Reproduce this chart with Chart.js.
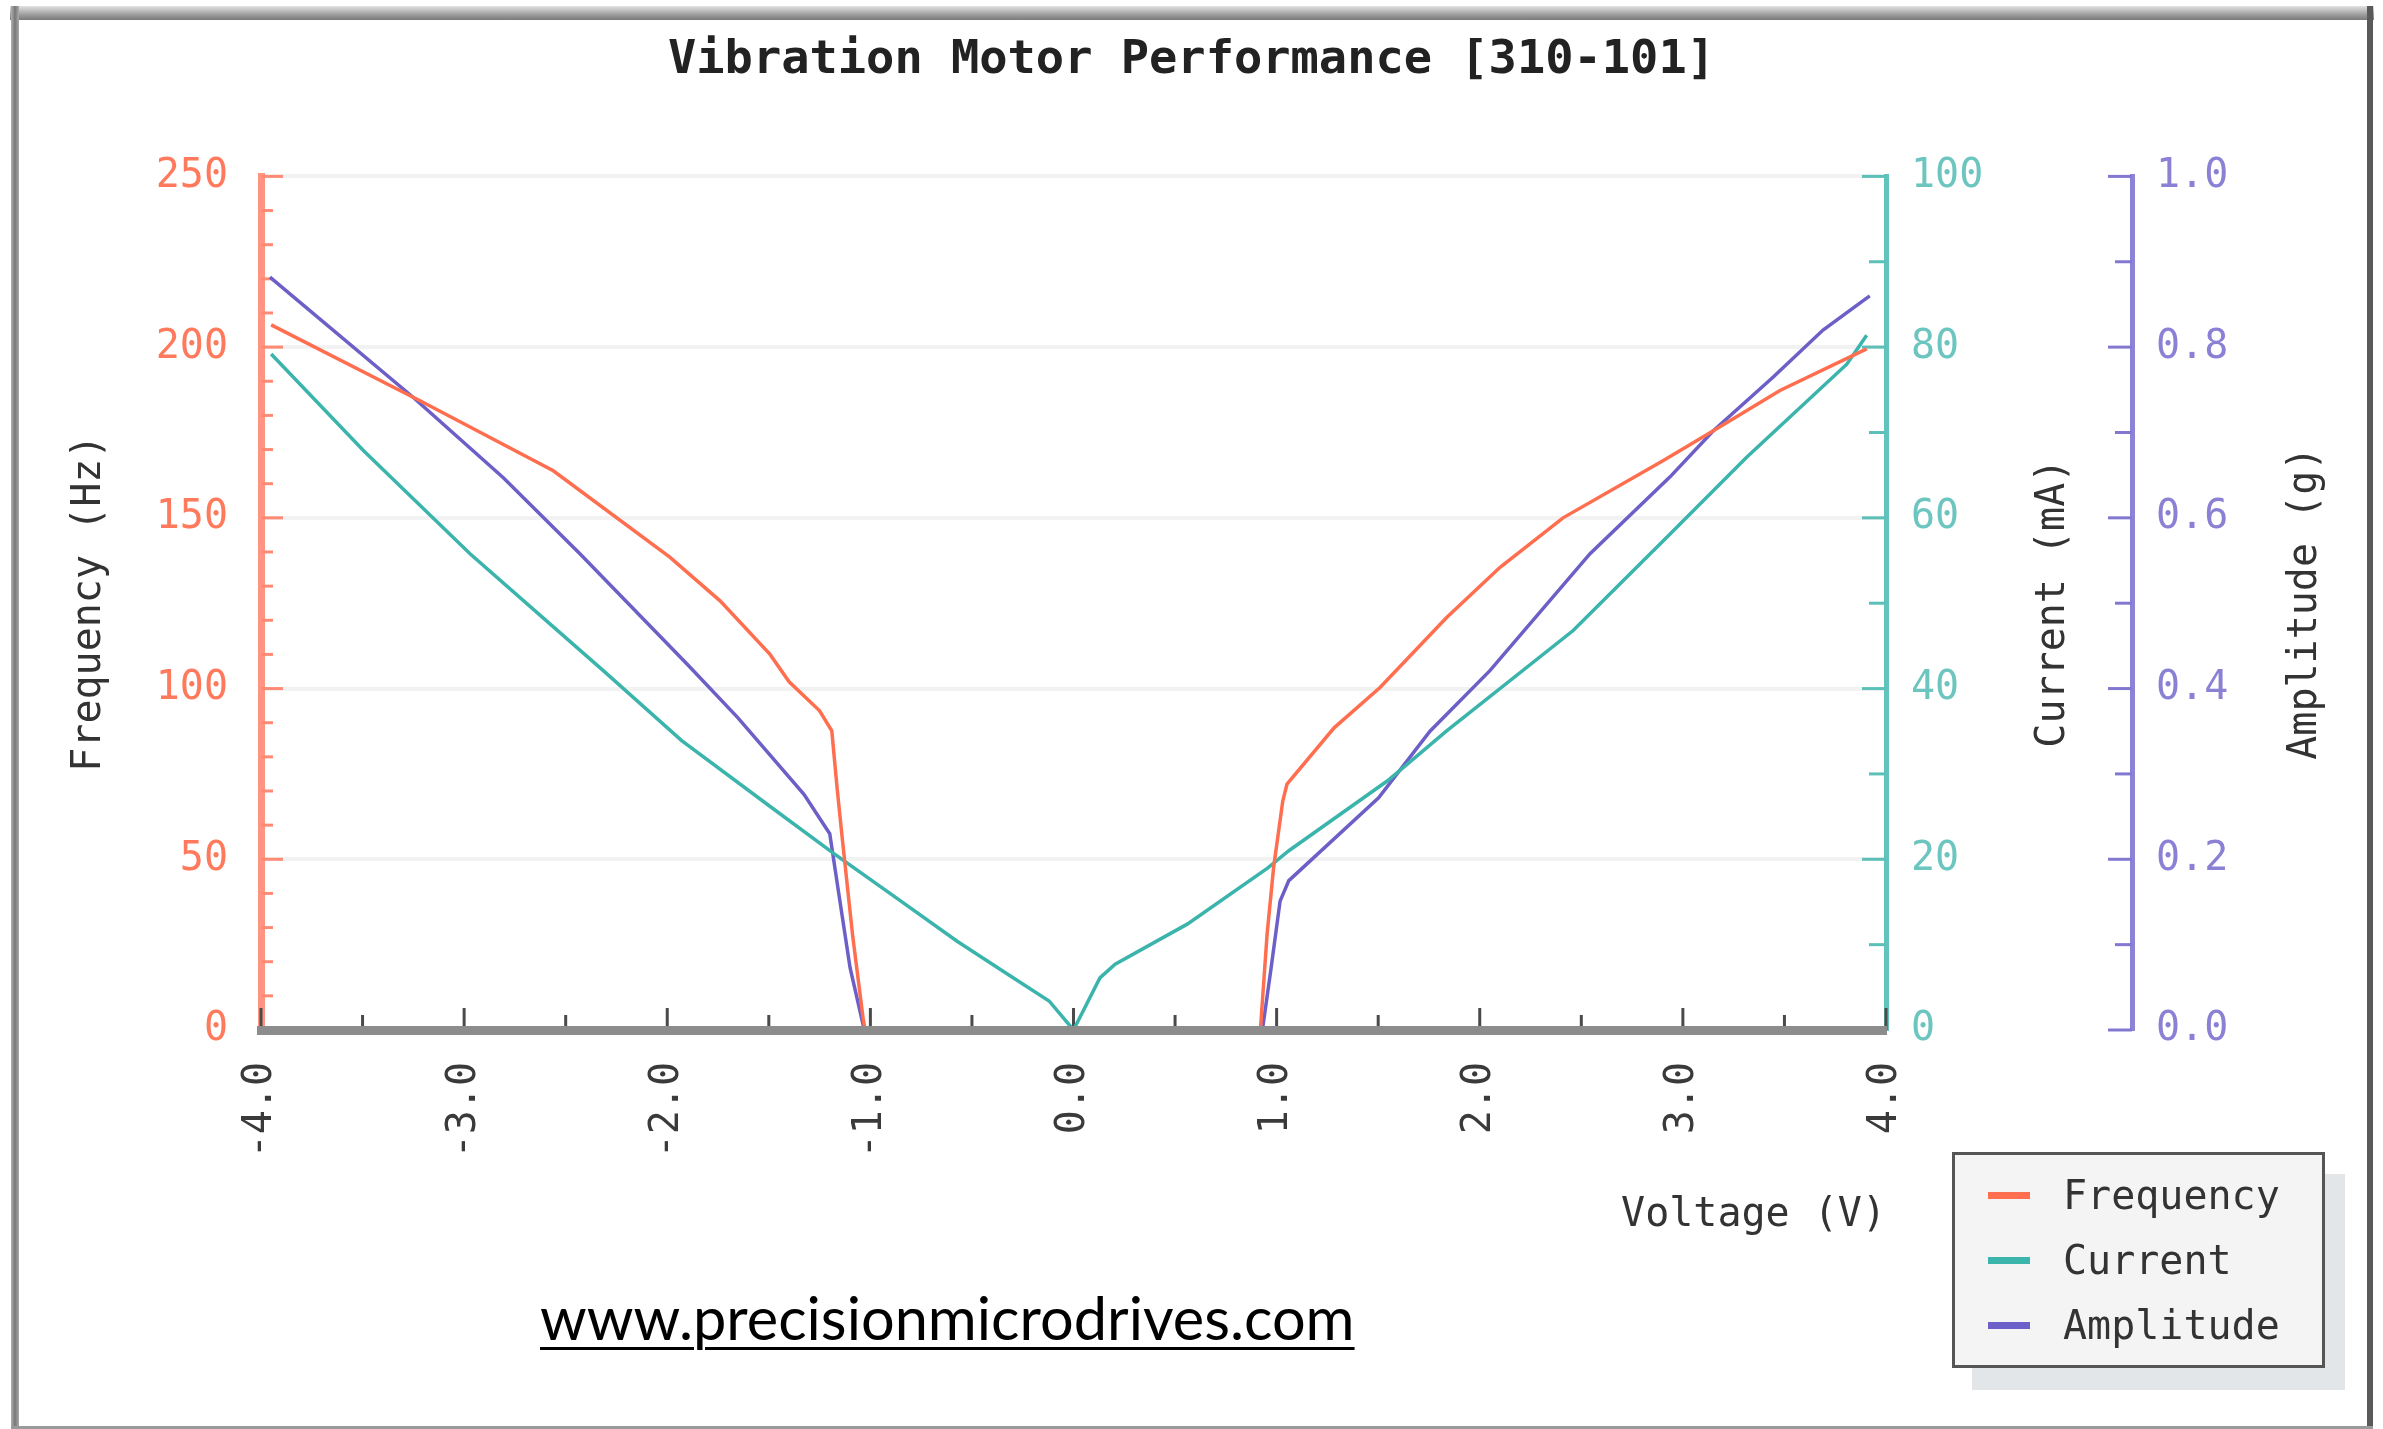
<!DOCTYPE html>
<html><head><meta charset="utf-8">
<script src="https://cdn.jsdelivr.net/npm/chart.js@4.4.1/dist/chart.umd.min.js"></script>
<style>
html,body{margin:0;padding:0;background:#fff;width:2383px;height:1429px;overflow:hidden;}
#wrap{position:relative;width:2383px;height:1429px;}
#c{position:absolute;left:0;top:0;}
#frameTop{position:absolute;left:10px;top:6px;width:2364px;height:14px;background:linear-gradient(#e2e2e2,#9a9a9a 65%,#7a7a7a);}
#frameLeft{position:absolute;left:11px;top:6px;width:8px;height:1423px;background:linear-gradient(90deg,#b0b0b0,#777 50%,#aaa);}
#frameRight{position:absolute;left:2367px;top:6px;width:6px;height:1423px;background:#5a5a5a;}
#frameBottom{position:absolute;left:11px;top:1426px;width:2362px;height:3px;background:#9a9a9a;}
#url{position:absolute;left:540px;top:1288px;font-family:Lato,'Open Sans',sans-serif;font-size:59.5px;line-height:59.5px;color:#000;text-decoration:underline;text-decoration-thickness:3px;text-underline-offset:7px;white-space:nowrap;}
#legend{position:absolute;left:1952px;top:1152px;width:367px;height:210px;background:#f4f4f4;border:3px solid #555;box-shadow:20px 22px 0 #e3e6e9;}
.lgItem{position:absolute;left:0;height:50px;width:367px;}
.lgSw{position:absolute;left:33px;top:22px;width:42px;height:7px;}
.lgTx{position:absolute;left:108px;top:0;height:50px;line-height:50px;font-family:'DejaVu Sans Mono',monospace;font-size:40px;color:#333;}
</style>
</head><body>
<div id="wrap">
  <div id="frameTop"></div><div id="frameLeft"></div><div id="frameRight"></div><div id="frameBottom"></div>
  <canvas id="c" width="2383" height="1429"></canvas>
  <div id="url">www.precisionmicrodrives.com</div>
  <div id="legend"></div>
</div>
<script>
// ---------- data ----------
const chartTitle = 'Vibration Motor Performance [310-101]';
const xTitle = 'Voltage (V)';
const freqTitle = 'Frequency (Hz)';
const currTitle = 'Current (mA)';
const ampTitle = 'Amplitude (g)';
const seriesNames = ['Frequency', 'Current', 'Amplitude'];

const freqVoltage = [-3.95, -3.217, -2.561, -1.986, -1.74, -1.494, -1.4, -1.25, -1.19, -1.164, -1.14, -1.088, -1.036, -1.026, 0.0, 0.92, 0.953, 0.985, 1.03, 1.051, 1.283, 1.509, 1.837, 2.1, 2.41, 2.904, 3.15, 3.478, 3.905];
const frequencyHz = [206.5, 184.3, 163.8, 138.4, 125.7, 110, 102, 93.5, 87.6, 71, 57, 28, 3.5, 0, null, 0, 28, 47.5, 67, 72, 88.5, 100.3, 120.8, 135.5, 150, 166.8, 175.5, 187.3, 199.5];

const currVoltage = [-3.95, -3.496, -2.971, -2.593, -2.315, -1.929, -1.5, -1.176, -0.874, -0.573, -0.322, -0.12, 0.0, 0.13, 0.205, 0.56, 0.957, 1.06, 1.546, 1.837, 2.46, 2.937, 3.314, 3.807, 3.905];
const currentMA = [79.2, 67.9, 55.8, 47.9, 42.1, 33.9, 26.3, 20.6, 15.5, 10.4, 6.5, 3.4, 0, 6.1, 7.7, 12.4, 19, 21, 29.2, 35.05, 46.8, 58.1, 67.1, 78, 81.4];

const ampVoltage = [-3.956, -3.25, -2.807, -2.43, -1.904, -1.653, -1.327, -1.2, -1.15, -1.1, -1.03, 0.0, 0.93, 0.973, 1.017, 1.06, 1.502, 1.755, 2.05, 2.543, 2.937, 3.15, 3.445, 3.69, 3.92];
const amplitudeG = [0.882, 0.741, 0.647, 0.558, 0.429, 0.366, 0.276, 0.23, 0.151, 0.073, 0, null, 0, 0.073, 0.151, 0.175, 0.272, 0.35, 0.421, 0.558, 0.648, 0.702, 0.765, 0.82, 0.86];

const xRange = [-4, 4];
const freqRange = [0, 250];
const currRange = [0, 100];
const ampRange = [0, 1];

// ---------- styles ----------
const MONO = "'DejaVu Sans Mono', monospace";
const freqColor = '#ff6f4f', currColor = '#3bb4ac', ampColor = '#6c5fc7';

const toPoints = (xs, ys) => xs.map((x, i) => ({x: x, y: ys[i]}));
const isMult = (v, m) => Math.abs(v / m - Math.round(v / m)) < 1e-6;

const tickMarks = {
  id: 'tickMarks',
  beforeDatasetsDraw(chart) {
    const {ctx, chartArea, scales} = chart;
    ctx.save();
    ctx.lineWidth = 3;
    const xs = scales.x;
    ctx.strokeStyle = '#4a4a4a';
    xs.ticks.forEach(t => {
      const px = xs.getPixelForValue(t.value);
      const len = isMult(t.value, 1) ? 22 : 15;
      ctx.beginPath(); ctx.moveTo(px, chartArea.bottom); ctx.lineTo(px, chartArea.bottom - len); ctx.stroke();
    });
    const ys = scales.y;
    ctx.strokeStyle = '#ff8a75';
    ys.ticks.forEach(t => {
      const py = ys.getPixelForValue(t.value);
      const len = isMult(t.value, 50) ? 22 : 12;
      ctx.beginPath(); ctx.moveTo(ys.right, py); ctx.lineTo(ys.right + len, py); ctx.stroke();
    });
    const y1 = scales.y1;
    ctx.strokeStyle = '#5cc0b9';
    y1.ticks.forEach(t => {
      const py = y1.getPixelForValue(t.value);
      const len = isMult(t.value, 20) ? 24 : 17;
      ctx.beginPath(); ctx.moveTo(y1.left, py); ctx.lineTo(y1.left - len, py); ctx.stroke();
    });
    const y2 = scales.y2;
    ctx.strokeStyle = '#8378d0';
    y2.ticks.forEach(t => {
      const py = y2.getPixelForValue(t.value);
      const len = isMult(t.value, 0.2) ? 24 : 17;
      ctx.beginPath(); ctx.moveTo(y2.left, py); ctx.lineTo(y2.left - len, py); ctx.stroke();
    });
    ctx.restore();
  },
  afterDraw(chart) {
    const {ctx, scales} = chart;
    const draw = (scale, text, off) => {
      ctx.save();
      ctx.translate(scale.right - off, (scale.top + scale.bottom) / 2);
      ctx.rotate(-Math.PI / 2);
      ctx.font = '40px ' + MONO;
      ctx.fillStyle = '#333';
      ctx.textAlign = 'center';
      ctx.textBaseline = 'middle';
      ctx.fillText(text, 0, 0);
      ctx.restore();
    };
    draw(scales.y1, currTitle, 78);
    draw(scales.y2, ampTitle, 77);
  }
};

const chart = new Chart(document.getElementById('c'), {
  type: 'line',
  data: {
    datasets: [
      {label: seriesNames[0], data: toPoints(freqVoltage, frequencyHz), borderColor: freqColor, backgroundColor: freqColor, yAxisID: 'y'},
      {label: seriesNames[1], data: toPoints(currVoltage, currentMA), borderColor: currColor, backgroundColor: currColor, yAxisID: 'y1'},
      {label: seriesNames[2], data: toPoints(ampVoltage, amplitudeG), borderColor: ampColor, backgroundColor: ampColor, yAxisID: 'y2'}
    ]
  },
  options: {
    responsive: false,
    animation: false,
    devicePixelRatio: 1,
    spanGaps: false,
    elements: {line: {borderWidth: 3.5, tension: 0}, point: {radius: 0}},
    layout: {padding: 0},
    plugins: {
      legend: {display: false},
      tooltip: {enabled: false},
      title: {display: true, text: chartTitle, color: '#222', font: {family: MONO, size: 47, weight: 'bold'}, padding: {top: 33, bottom: 87}}
    },
    scales: {
      x: {
        type: 'linear', position: 'bottom', min: xRange[0], max: xRange[1],
        ticks: {stepSize: 0.5, autoSkip: false, maxRotation: 90, minRotation: 90, padding: 32, color: '#3a3a3a', font: {family: MONO, size: 40},
          callback: v => isMult(v, 1) ? Number(v).toFixed(1) : ''},
        grid: {drawOnChartArea: false, drawTicks: false},
        border: {color: '#8c8c8c', width: 9, z: 1},
        title: {display: true, text: xTitle, align: 'end', color: '#333', font: {family: MONO, size: 40}, padding: {top: 0, bottom: 189}},
        afterFit: s => { s.height = 399; }
      },
      y: {
        type: 'linear', position: 'left', min: freqRange[0], max: freqRange[1],
        ticks: {stepSize: 10, autoSkip: false, padding: 33, color: '#ff7a5c', font: {family: MONO, size: 40},
          callback: v => isMult(v, 50) ? String(v) : ''},
        grid: {drawTicks: false, lineWidth: 4, color: c => (c.tick && c.tick.value > 0 && isMult(c.tick.value, 50)) ? 'rgba(0,0,0,0.05)' : 'rgba(0,0,0,0)'},
        border: {color: '#ff9482', width: 7},
        title: {display: true, text: freqTitle, color: '#333', font: {family: MONO, size: 40}, padding: {top: 66, bottom: 0}},
        afterFit: s => { s.width = 261; }
      },
      y1: {
        type: 'linear', position: 'right', min: currRange[0], max: currRange[1], weight: 0,
        ticks: {stepSize: 10, autoSkip: false, padding: 25, color: '#6cc5bf', font: {family: MONO, size: 40},
          callback: v => isMult(v, 20) ? String(v) : ''},
        grid: {drawOnChartArea: false, drawTicks: false},
        border: {color: '#62c2bc', width: 5},
        afterFit: s => { s.width = 246; }
      },
      y2: {
        type: 'linear', position: 'right', min: ampRange[0], max: ampRange[1], weight: 1,
        ticks: {stepSize: 0.1, autoSkip: false, padding: 24, color: '#8a80d4', font: {family: MONO, size: 40},
          callback: v => isMult(v, 0.2) ? Number(v).toFixed(1) : ''},
        grid: {drawOnChartArea: false, drawTicks: false},
        border: {color: '#8b83d6', width: 5},
        afterFit: s => { s.width = 251; }
      }
    }
  },
  plugins: [tickMarks]
});

// HTML legend built from the chart's datasets
const lg = document.getElementById('legend');
chart.data.datasets.forEach((ds, i) => {
  const it = document.createElement('div');
  it.className = 'lgItem';
  it.style.top = (15 + i * 65) + 'px';
  const sw = document.createElement('div');
  sw.className = 'lgSw';
  sw.style.background = ds.borderColor;
  const tx = document.createElement('div');
  tx.className = 'lgTx';
  tx.textContent = ds.label;
  it.appendChild(sw); it.appendChild(tx);
  lg.appendChild(it);
});
</script>
</body></html>
